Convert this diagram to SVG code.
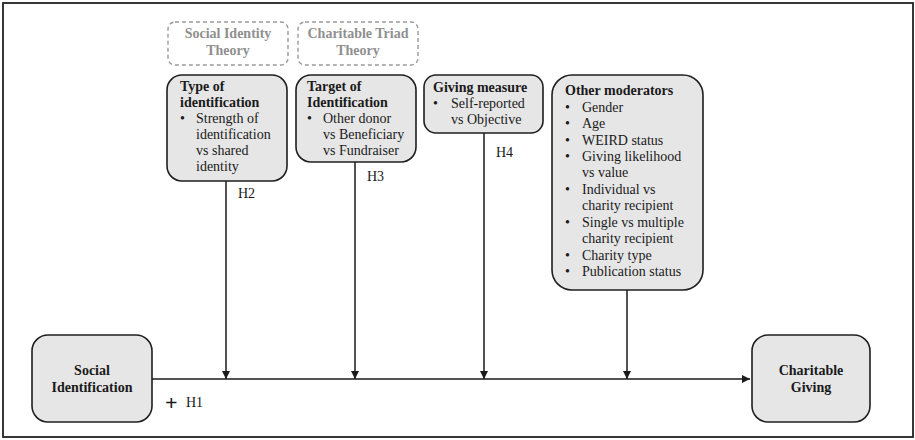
<svg xmlns="http://www.w3.org/2000/svg" width="915" height="440" viewBox="0 0 915 440">
<defs>
<marker id="ah" viewBox="0 0 10 10" refX="10" refY="5" markerWidth="8" markerHeight="8" markerUnits="userSpaceOnUse" orient="auto">
<path d="M0,0 L10,5 L0,10 z" fill="#1a1a1a"/>
</marker>
<style>
.box{fill:#e6e6e6;stroke:#1f1f1f;stroke-width:1.6}
.dash{fill:none;stroke:#9a9a9a;stroke-width:1.4;stroke-dasharray:4 3}
.t{font-family:"Liberation Serif","Times New Roman",serif;font-size:14px;fill:#1a1a1a}
.b{font-weight:bold}
.g{fill:#8f8f8f;font-weight:bold}
.ln{stroke:#1a1a1a;stroke-width:1.5;fill:none}
</style>
</defs>
<rect x="3" y="3" width="910" height="434" fill="#fff" stroke="#222" stroke-width="1.8"/>

<g id="connectors">
<line class="ln" x1="152" y1="379" x2="750" y2="379" marker-end="url(#ah)"/>
<line class="ln" x1="226" y1="181" x2="226" y2="379" marker-end="url(#ah)"/>
<line class="ln" x1="355" y1="162" x2="355" y2="379" marker-end="url(#ah)"/>
<line class="ln" x1="484" y1="133" x2="484" y2="379" marker-end="url(#ah)"/>
<line class="ln" x1="627" y1="290" x2="627" y2="379" marker-end="url(#ah)"/>
<text class="t" x="165" y="410" style="font-size:22px;font-weight:bold">+</text>
<text class="t" x="186" y="407">H1</text>
<text class="t" x="238" y="198">H2</text>
<text class="t" x="367" y="181">H3</text>
<text class="t" x="496" y="157">H4</text>
</g>

<g id="social-identity-theory">
<rect class="dash" x="168" y="22" width="120" height="43" rx="7"/>
<text class="t g" x="228" y="38" text-anchor="middle">Social Identity</text>
<text class="t g" x="228" y="55" text-anchor="middle">Theory</text>
</g>

<g id="charitable-triad-theory">
<rect class="dash" x="298" y="22" width="120" height="43" rx="7"/>
<text class="t g" x="358" y="38" text-anchor="middle">Charitable Triad</text>
<text class="t g" x="358" y="55" text-anchor="middle">Theory</text>
</g>

<g id="type-of-identification">
<rect class="box" x="167" y="75" width="120" height="106" rx="15"/>
<text class="t b" x="180" y="91">Type of</text>
<text class="t b" x="180" y="107">identification</text>
<text class="t" x="180" y="123">•</text>
<text class="t" x="196" y="123">Strength of</text>
<text class="t" x="196" y="139">identification</text>
<text class="t" x="196" y="155">vs shared</text>
<text class="t" x="196" y="171">identity</text>
</g>

<g id="target-of-identification">
<rect class="box" x="296" y="75" width="120" height="87" rx="15"/>
<text class="t b" x="307" y="91">Target of</text>
<text class="t b" x="307" y="107">Identification</text>
<text class="t" x="307" y="123">•</text>
<text class="t" x="323" y="123">Other donor</text>
<text class="t" x="323" y="139">vs Beneficiary</text>
<text class="t" x="323" y="155">vs Fundraiser</text>
</g>

<g id="giving-measure">
<rect class="box" x="424" y="75" width="119" height="58" rx="12"/>
<text class="t b" x="433" y="92">Giving measure</text>
<text class="t" x="433" y="108">•</text>
<text class="t" x="451" y="108">Self-reported</text>
<text class="t" x="451" y="124">vs Objective</text>
</g>

<g id="other-moderators">
<rect class="box" x="552" y="75" width="151" height="215" rx="20"/>
<text class="t b" x="565" y="95">Other moderators</text>
<g class="t">
<text x="565" y="112">•</text><text x="582" y="112">Gender</text>
<text x="565" y="128">•</text><text x="582" y="128">Age</text>
<text x="565" y="145">•</text><text x="582" y="145">WEIRD status</text>
<text x="565" y="161">•</text><text x="582" y="161">Giving likelihood</text>
<text x="582" y="177">vs value</text>
<text x="565" y="194">•</text><text x="582" y="194">Individual vs</text>
<text x="582" y="210">charity recipient</text>
<text x="565" y="227">•</text><text x="582" y="227">Single vs multiple</text>
<text x="582" y="243">charity recipient</text>
<text x="565" y="260">•</text><text x="582" y="260">Charity type</text>
<text x="565" y="276">•</text><text x="582" y="276">Publication status</text>
</g>
</g>

<g id="social-identification">
<rect class="box" x="32" y="335" width="120" height="87" rx="16"/>
<text class="t b" x="92" y="375" text-anchor="middle">Social</text>
<text class="t b" x="92" y="392" text-anchor="middle">Identification</text>
</g>

<g id="charitable-giving">
<rect class="box" x="752" y="335" width="118" height="87" rx="16"/>
<text class="t b" x="811" y="375" text-anchor="middle">Charitable</text>
<text class="t b" x="811" y="392" text-anchor="middle">Giving</text>
</g>
</svg>
